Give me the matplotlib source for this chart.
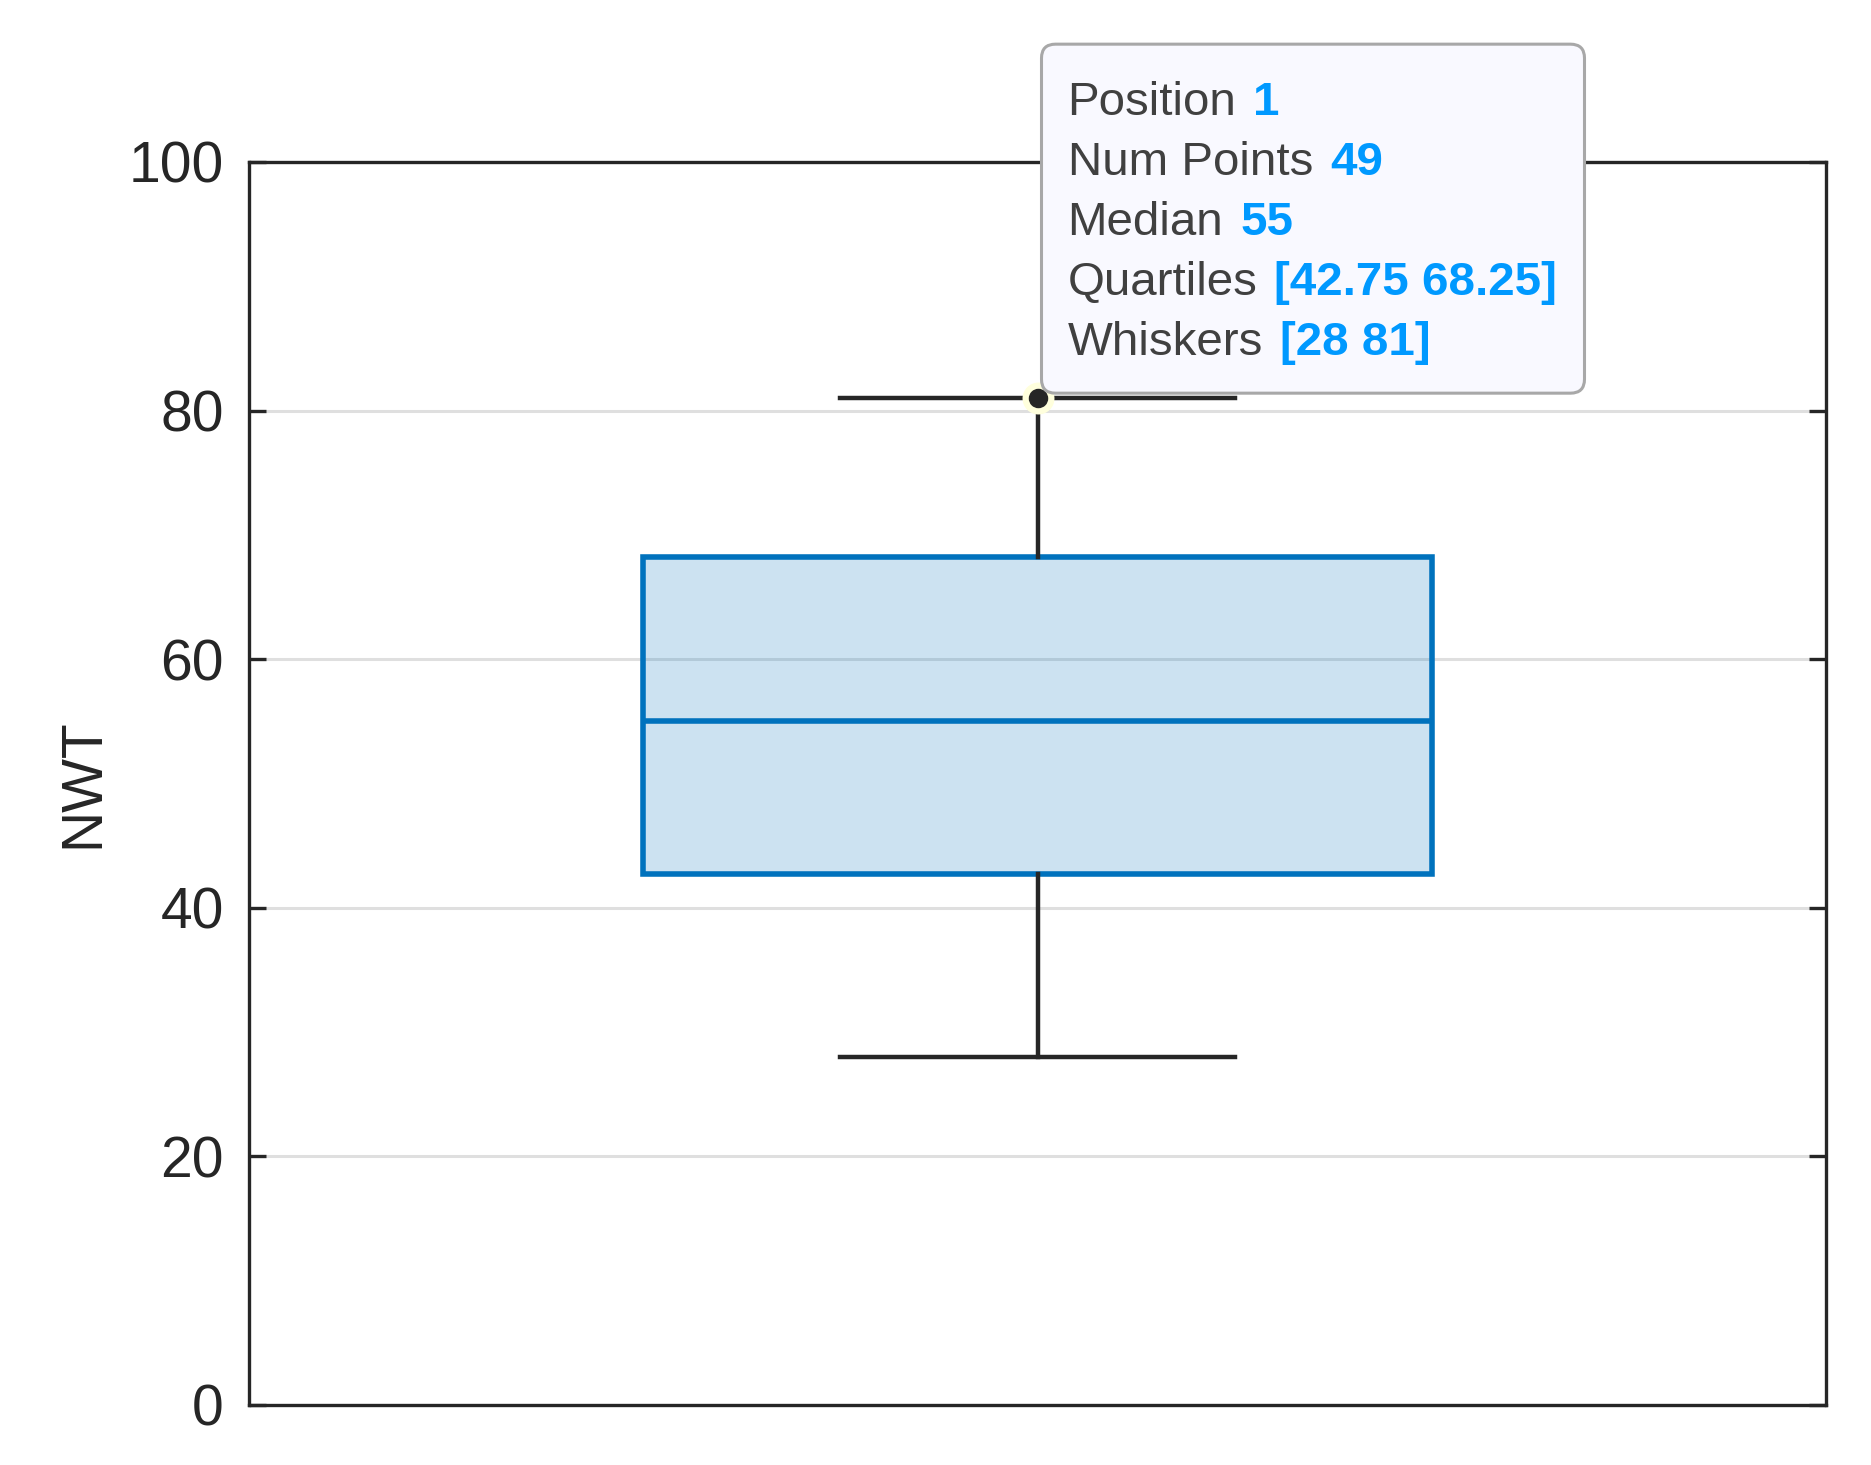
import matplotlib
matplotlib.use("Agg")
import matplotlib.pyplot as plt
from matplotlib.patches import FancyBboxPatch

plt.rcParams['font.family'] = ['Liberation Sans', 'DejaVu Sans']

# box statistics (MATLAB boxchart data tip)
position = 1
num_points = 49
median = 55
quartiles = [42.75, 68.25]
whiskers = [28, 81]
ylabel = "NWT"
yticks = [0, 20, 40, 60, 80, 100]

blue = "#0072BD"
dark = "#262626"

fig = plt.figure(figsize=(1871 / 200, 1465 / 200), dpi=200)
ax = fig.add_axes([249 / 1871, 1 - 1405 / 1465, (1826 - 249) / 1871, (1405 - 162) / 1465])

stats = [dict(med=median, q1=quartiles[0], q3=quartiles[1],
              whislo=whiskers[0], whishi=whiskers[1], fliers=[])]
ax.bxp(stats, positions=[position], widths=0.5, capwidths=0.25,
       showfliers=False, patch_artist=True,
       boxprops=dict(facecolor=(0, 0.447, 0.741, 0.2), edgecolor=blue, linewidth=2.0),
       medianprops=dict(color=blue, linewidth=2.0),
       whiskerprops=dict(color=dark, linewidth=1.6),
       capprops=dict(color=dark, linewidth=1.6),
       zorder=3)

ax.set_xlim(0.5, 1.5)
ax.set_ylim(0, 100)
ax.set_yticks(yticks)
ax.set_xticks([])
ax.yaxis.grid(True, color="#DFDFDF", linewidth=1.1, zorder=0)
ax.set_axisbelow(True)
ax.tick_params(axis='y', direction='in', length=6, width=1.2, color=dark,
               labelsize=20.5, labelcolor=dark, pad=9, right=True)
for s in ax.spines.values():
    s.set_color(dark)
    s.set_linewidth(1.2)
ax.set_ylabel(ylabel, fontsize=20.5, color=dark)
ax.yaxis.set_label_coords(-0.088, 0.5)

# data tip marker on the upper whisker
ax.plot([position], [whiskers[1]], 'o', ms=10.5, color="#FFFFDD", zorder=8, clip_on=False)
ax.plot([position], [whiskers[1]], 'o', ms=6, color=dark, zorder=9, clip_on=False)

# data tip box, in pixels relative to the marker
px, py = ax.transData.transform((position, whiskers[1]))
rpad = 12
box = FancyBboxPatch((px + 4 + rpad, py + 5 + rpad), 543 - 2 * rpad, 349 - 2 * rpad,
                     boxstyle=f"round,pad={rpad},rounding_size=14",
                     facecolor="#F9F9FF", edgecolor="#A8A8A8", linewidth=1.1,
                     transform=None, zorder=10)
fig.add_artist(box)

rows = [("Position", f"{position}"),
        ("Num Points", f"{num_points}"),
        ("Median", f"{median}"),
        ("Quartiles", f"[{quartiles[0]:g} {quartiles[1]:g}]"),
        ("Whiskers", f"[{whiskers[0]} {whiskers[1]}]")]
labels = []
for i, (lab, val) in enumerate(rows):
    t = fig.text(px + 30, py + 283 - 60 * i, lab, transform=None, fontsize=17.1,
                 color="#404040", va='baseline', ha='left', zorder=11)
    labels.append((t, val))

fig.canvas.draw()
for t, val in labels:
    bb = t.get_window_extent()
    x0, y0 = t.get_position()
    fig.text(bb.x1 + 17, y0, val, transform=None, fontsize=17.1, fontweight='bold',
             color="#0099FF", va='baseline', ha='left', zorder=11)

fig.savefig("out.png", dpi=200)
